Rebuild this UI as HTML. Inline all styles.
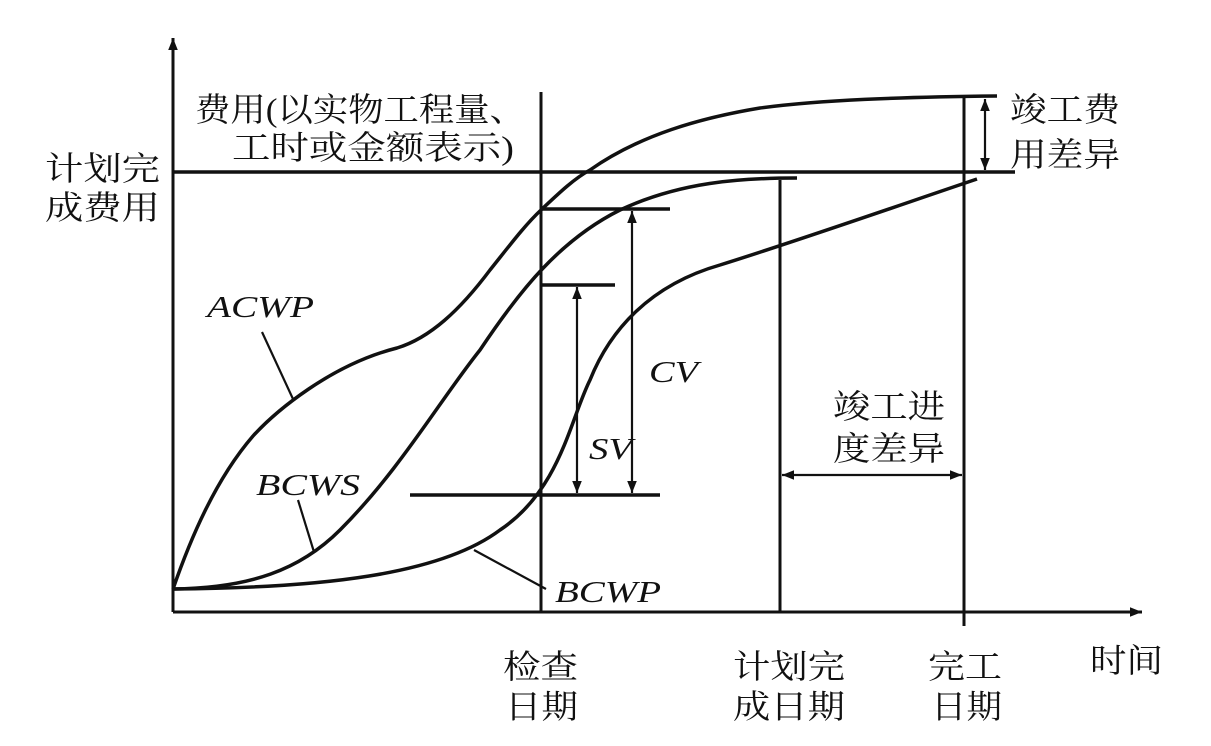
<!DOCTYPE html>
<html><head><meta charset="utf-8"><style>
html,body{margin:0;padding:0;background:#fff;}
svg{display:block;}
.cn{font-family:"Liberation Serif","Noto Serif CJK SC","Noto Sans CJK SC",serif;font-size:33px;fill:#111;}
.it{font-family:"Liberation Serif",serif;font-style:italic;font-size:31px;fill:#111;}
</style></head><body>
<svg width="1211" height="746" viewBox="0 0 1211 746" xmlns="http://www.w3.org/2000/svg">
<defs>
<marker id="ah" viewBox="0 0 10 10" refX="10" refY="5" markerWidth="18" markerHeight="12" markerUnits="userSpaceOnUse" orient="auto-start-reverse">
<path d="M0,1 L10,5 L0,9 Z" fill="#111"/></marker>
</defs>
<g stroke="#111" fill="none" stroke-width="3">
<line x1="173" y1="612" x2="173" y2="38" marker-end="url(#ah)"/>
<line x1="173" y1="612" x2="1142" y2="612" marker-end="url(#ah)"/>
<line x1="173" y1="172" x2="1015" y2="172" stroke-width="3.5"/>
<line x1="541" y1="92" x2="541" y2="612"/>
<line x1="780" y1="180" x2="780" y2="612"/>
<line x1="964" y1="97" x2="964" y2="626"/>
<line x1="541" y1="209" x2="670" y2="209" stroke-width="3.5"/>
<line x1="541" y1="285" x2="615" y2="285" stroke-width="3.5"/>
<line x1="410" y1="495" x2="660" y2="495" stroke-width="3.5"/>
<path stroke-width="3.5" d="M173,589 C190,540 215,480 253,436 C275,412 330,365 397,348 C430,338 460,310 490,270 C510,245 525,225 541,210 C560,192 575,178 590,170 C640,135 700,118 760,108 C820,100 900,97 997,96"/>
<path stroke-width="3.5" d="M173,589 C250,588 300,570 340,530 C400,470 440,400 480,350 C520,290 560,240 620,210 C680,182 740,178 797,178"/>
<path stroke-width="3.5" d="M173,589 C320,588 440,575 500,530 C560,490 570,420 590,380 C610,330 650,285 720,265 C800,240 900,205 977,179"/>
<line x1="262" y1="332" x2="293" y2="399" stroke-width="2.2"/>
<line x1="298" y1="500" x2="314" y2="552" stroke-width="2.2"/>
<line x1="546" y1="589" x2="474" y2="550" stroke-width="2.2"/>
<line x1="632" y1="211" x2="632" y2="493" stroke-width="2.2" marker-start="url(#ah)" marker-end="url(#ah)"/>
<line x1="577" y1="287" x2="577" y2="493" stroke-width="2.2" marker-start="url(#ah)" marker-end="url(#ah)"/>
<line x1="782" y1="475" x2="962" y2="475" stroke-width="2.2" marker-start="url(#ah)" marker-end="url(#ah)"/>
<line x1="985" y1="99" x2="985" y2="170" stroke-width="2.2" marker-start="url(#ah)" marker-end="url(#ah)"/>
</g>
<text class="it" x="207" y="317" textLength="107" lengthAdjust="spacingAndGlyphs">ACWP</text>
<text class="it" x="256" y="495" textLength="104" lengthAdjust="spacingAndGlyphs">BCWS</text>
<text class="it" x="555" y="602" textLength="106" lengthAdjust="spacingAndGlyphs">BCWP</text>
<text class="it" x="649" y="382" textLength="49" lengthAdjust="spacingAndGlyphs">CV</text>
<text class="it" x="589" y="459" textLength="43" lengthAdjust="spacingAndGlyphs">SV</text>
<text class="cn" x="195" y="121" textLength="330" lengthAdjust="spacingAndGlyphs">费用(以实物工程量、</text>
<text class="cn" x="232" y="159" textLength="282" lengthAdjust="spacingAndGlyphs">工时或金额表示)</text>
<text class="cn" x="45" y="180" textLength="115" lengthAdjust="spacingAndGlyphs">计划完</text>
<text class="cn" x="45" y="219" textLength="115" lengthAdjust="spacingAndGlyphs">成费用</text>
<text class="cn" x="1010" y="121" textLength="110" lengthAdjust="spacingAndGlyphs">竣工费</text>
<text class="cn" x="1010" y="166" textLength="110" lengthAdjust="spacingAndGlyphs">用差异</text>
<text class="cn" x="833" y="418" textLength="112" lengthAdjust="spacingAndGlyphs">竣工进</text>
<text class="cn" x="833" y="460" textLength="112" lengthAdjust="spacingAndGlyphs">度差异</text>
<text class="cn" x="503" y="678" textLength="75" lengthAdjust="spacingAndGlyphs">检查</text>
<text class="cn" x="505" y="718" textLength="73" lengthAdjust="spacingAndGlyphs">日期</text>
<text class="cn" x="733" y="678" textLength="112" lengthAdjust="spacingAndGlyphs">计划完</text>
<text class="cn" x="733" y="718" textLength="112" lengthAdjust="spacingAndGlyphs">成日期</text>
<text class="cn" x="928" y="678" textLength="74" lengthAdjust="spacingAndGlyphs">完工</text>
<text class="cn" x="931" y="718" textLength="71" lengthAdjust="spacingAndGlyphs">日期</text>
<text class="cn" x="1090" y="672" textLength="73" lengthAdjust="spacingAndGlyphs">时间</text>
</svg>
</body></html>
